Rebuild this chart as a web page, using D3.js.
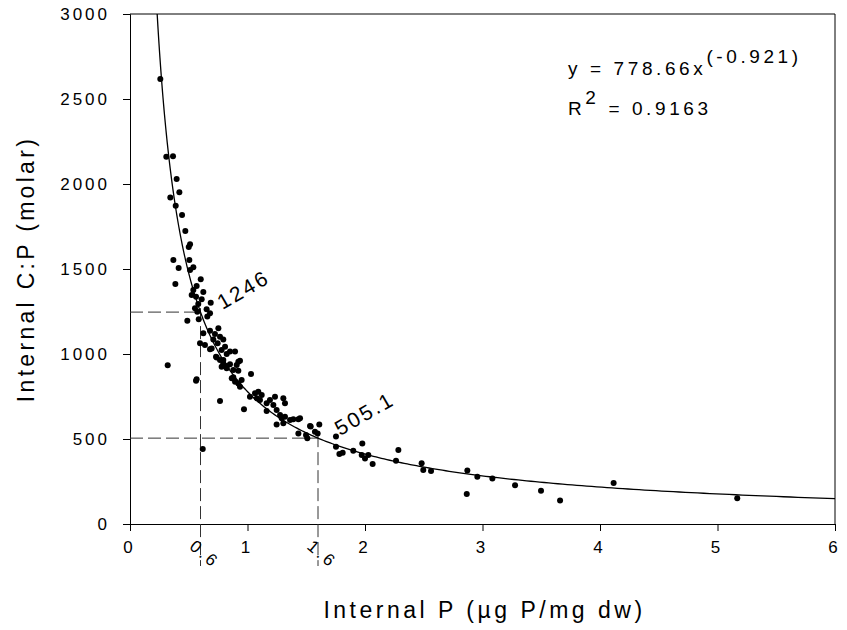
<!DOCTYPE html>
<html>
<head>
<meta charset="utf-8">
<title>C:P vs P</title>
<style>
  body { margin: 0; background: #fff; }
  text { font-family: "Liberation Sans", Arial, sans-serif; fill: #000; }
</style>
</head>
<body>
<svg id="chart"></svg>
<script src="https://d3js.org/d3.v7.min.js"></script>
<script>
// internal P (ug P / mg dw) and internal C:P (molar)
const pX = [0.258,0.309,0.366,0.397,0.420,0.343,0.389,0.443,0.471,0.511,0.500,0.369,0.505,0.414,0.511,0.539,
  0.602,0.386,0.567,0.539,0.624,0.525,0.562,0.610,0.581,0.687,0.553,0.652,0.573,0.681,0.658,0.585,0.488,
  0.752,0.681,0.624,0.723,0.766,0.709,0.794,0.746,0.596,0.638,0.809,0.780,0.681,0.851,0.894,0.823,0.738,
  0.794,0.936,0.321,0.851,0.908,0.780,0.823,0.879,0.922,1.030,0.567,0.879,
  0.695,0.732,0.766,0.794,0.823,0.922,0.866,0.894,0.922,0.950,0.936,1.021,1.064,1.092,1.121,1.078,1.106,
  0.766,0.970,1.163,1.191,1.234,1.220,1.305,1.319,1.163,1.248,1.277,1.291,1.319,1.248,1.305,1.362,1.390,
  1.433,1.433,1.498,1.509,1.538,1.611,1.597,0.619,0.562,
  1.447,1.532,1.574,1.753,1.753,1.782,1.810,1.900,1.977,1.972,2.000,2.028,2.065,2.264,2.284,2.482,2.496,
  2.562,2.871,2.866,2.956,3.084,3.277,3.498,3.660,4.116,5.168];
const cpY = [2618,2161,2163,2029,1951,1920,1872,1818,1724,1645,1629,1553,1553,1506,1494,1510,
  1439,1412,1400,1376,1365,1347,1337,1322,1294,1302,1269,1263,1249,1239,1220,1204,1196,
  1151,1137,1122,1118,1102,1086,1086,1063,1063,1053,1043,1024,1028,1014,1014,1000,979,
  965,961,934,939,935,925,916,906,902,882,851,863,
  1033,984,965,945,929,955,857,837,827,847,808,749,769,778,759,739,729,
  724,675,710,729,749,700,739,710,665,671,641,622,631,586,592,612,616,
  616,533,523,504,573,586,533,441,843,
  622,576,543,514,455,412,419,431,473,406,386,406,353,372,435,357,318,
  312,314,176,278,267,228,195,138,241,151];

// power fit printed on the figure: y = a * x^b
const fitA = 778.66;
const fitB = -0.921;
const marked = [0.6, 1.6];   // dashed guide lines
const markLabels = ['1246', '505.1'];
const xTicks = [0, 1, 2, 3, 4, 5, 6];
const yTicks = [0, 500, 1000, 1500, 2000, 2500, 3000];

const W = 847, H = 630;
const margin = {top: 14, right: 12, bottom: 106, left: 130};
const width = W - margin.left - margin.right,
      height = H - margin.top - margin.bottom;

const svg = d3.select('#chart').attr('width', W).attr('height', H);
const chart = svg.append('g').attr('transform', `translate(${margin.left},${margin.top})`);

const x = d3.scaleLinear().domain([0, 6]).range([0, width]);
const y = d3.scaleLinear().domain([0, 3000]).range([height, 0]);

// frame
chart.append('path')
  .attr('d', `M0,0H${width}V${height}`)
  .attr('fill', 'none').attr('stroke', '#000');

const xAxis = chart.append('g')
  .attr('transform', `translate(0,${height})`)
  .call(d3.axisBottom(x).tickValues(xTicks).tickFormat(d3.format('d'))
    .tickSizeOuter(0).tickSize(7).tickPadding(10));
const yAxis = chart.append('g')
  .call(d3.axisLeft(y).tickValues(yTicks).tickFormat(d3.format('d'))
    .tickSizeOuter(0).tickSize(7).tickPadding(13));
[xAxis, yAxis].forEach(a => {
  a.select('.domain').attr('stroke', '#000');
  a.selectAll('.tick line').attr('stroke', '#000');
  a.selectAll('.tick text')
    .style('font-family', '"Liberation Sans", Arial, sans-serif')
    .style('font-size', '17px').style('letter-spacing', '3px').attr('fill', '#000');
});
xAxis.selectAll('.tick text').attr('dx', '-1px');

// dashed guides
marked.forEach((m, i) => {
  const v = fitA * Math.pow(m, fitB);
  chart.append('path')
    .attr('d', `M0,${y(v)}H${x(m)}M${x(m)},${y(v) - 4}V${height + 42}`)
    .attr('fill', 'none').attr('stroke', '#333').attr('stroke-dasharray', '13,5');
  chart.append('text')
    .attr('transform', `translate(${x(m) + 22},${y(v) - 2}) rotate(-30)`)
    .style('font-size', '21px').style('letter-spacing', '2.5px')
    .text(markLabels[i]);
  chart.append('text')
    .attr('transform', `translate(${x(m) - 12},${height + 24}) rotate(40)`)
    .style('font-size', '17px').style('letter-spacing', '3px')
    .text(String(m));
});

// fitted curve
const x0 = Math.pow(3000 / fitA, 1 / fitB);
const curveXs = d3.range(0, 301).map(i => x0 * Math.pow(6 / x0, i / 300));
chart.append('path')
  .datum(curveXs)
  .attr('fill', 'none').attr('stroke', '#000').attr('stroke-width', 1.3)
  .attr('d', d3.line().x(d => x(d)).y(d => y(fitA * Math.pow(d, fitB))));

// points
chart.selectAll('.pt')
  .data(pX.map((v, i) => [v, cpY[i]]))
  .enter().append('circle')
  .attr('class', 'pt')
  .attr('cx', d => x(d[0]))
  .attr('cy', d => y(d[1]))
  .attr('r', 3)
  .attr('fill', '#000');

// equation
const eq = svg.append('text').attr('x', 568).attr('y', 75)
  .style('font-size', '19px').style('letter-spacing', '3.6px');
eq.append('tspan').text('y = 778.66x');
eq.append('tspan').attr('dy', -12).text('(-0.921)');
const r2 = svg.append('text').attr('x', 568).attr('y', 115)
  .style('font-size', '19px').style('letter-spacing', '3.6px');
r2.append('tspan').text('R');
r2.append('tspan').attr('dy', -11).text('2');
r2.append('tspan').attr('dy', 11).text(' = 0.9163');

// axis titles
svg.append('text')
  .attr('transform', `translate(34,${margin.top + height / 2}) rotate(-90)`)
  .attr('text-anchor', 'middle')
  .style('font-size', '23px').style('letter-spacing', '3.3px')
  .text('Internal C:P (molar)');
svg.append('text')
  .attr('x', margin.left + width / 2 + 2).attr('y', 618)
  .attr('text-anchor', 'middle')
  .style('font-size', '23px').style('letter-spacing', '3.5px')
  .text('Internal P (µg P/mg dw)');
</script>
</body>
</html>
